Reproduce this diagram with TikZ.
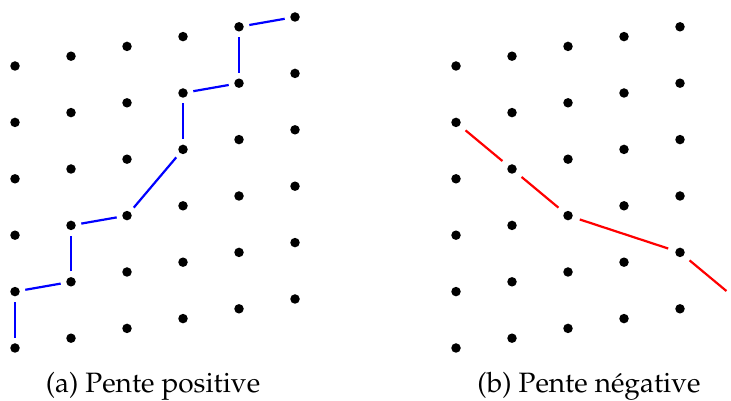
\documentclass[tikz,border=0pt]{standalone}
\usepackage[T1]{fontenc}
\usepackage{mathpazo}
\usepackage{tikz}
\usetikzlibrary{calc}

\begin{document}
\begin{tikzpicture}[x=1pt, y=1pt,
    point/.style={circle, fill=black, inner sep=0pt, minimum size=9.5pt},
    chemin/.style={line width=2.2pt, shorten >=5.5pt, shorten <=5.5pt},
    legende/.style={font=\fontsize{28}{32}\selectfont, anchor=base}]

    % =================================================================
    % 1. PARAMETRES DU RESEAU DE POINTS
    % =================================================================
    % Pas horizontal, pas vertical et decalage vertical par colonne
    \def\dx{56}
    \def\dy{56.4}
    \def\dec{9.8}
    \def\xa{15}   % premiere colonne, figure (a)
    \def\xb{456}  % premiere colonne, figure (b)
    \def\yo{53}   % ligne du bas

    \clip (0,0) rectangle (731,401);

    % =================================================================
    % 2. LES DEUX RESEAUX
    % =================================================================
    \foreach \i in {0,...,5} {
        \foreach \j in {0,...,5} {
            \node[point] (a\i\j) at (\xa+\i*\dx, \yo+\i*\dec+\j*\dy) {};
            \node[point] (b\i\j) at (\xb+\i*\dx, \yo+\i*\dec+\j*\dy) {};
        }
    }

    % =================================================================
    % 3. CHEMINS : PENTE POSITIVE (BLEU) ET NEGATIVE (ROUGE)
    % =================================================================
    \foreach \u/\v in {a00/a01, a01/a11, a11/a12, a12/a22, a22/a33,
                       a33/a34, a34/a44, a44/a45, a45/a55}
        \draw[chemin, blue] (\u) -- (\v);

    \foreach \u/\v in {b04/b13, b13/b22, b22/b41, b41/b50}
        \draw[chemin, red, shorten >=7.5pt, shorten <=7.5pt] (\u) -- (\v);

    % =================================================================
    % 4. LEGENDES
    % =================================================================
    \node[legende] (legA) at (153,8) {(a) Pente positive};
    \node[legende] (legB) at (589,8) {(b) Pente négative};

\end{tikzpicture}
\end{document}
